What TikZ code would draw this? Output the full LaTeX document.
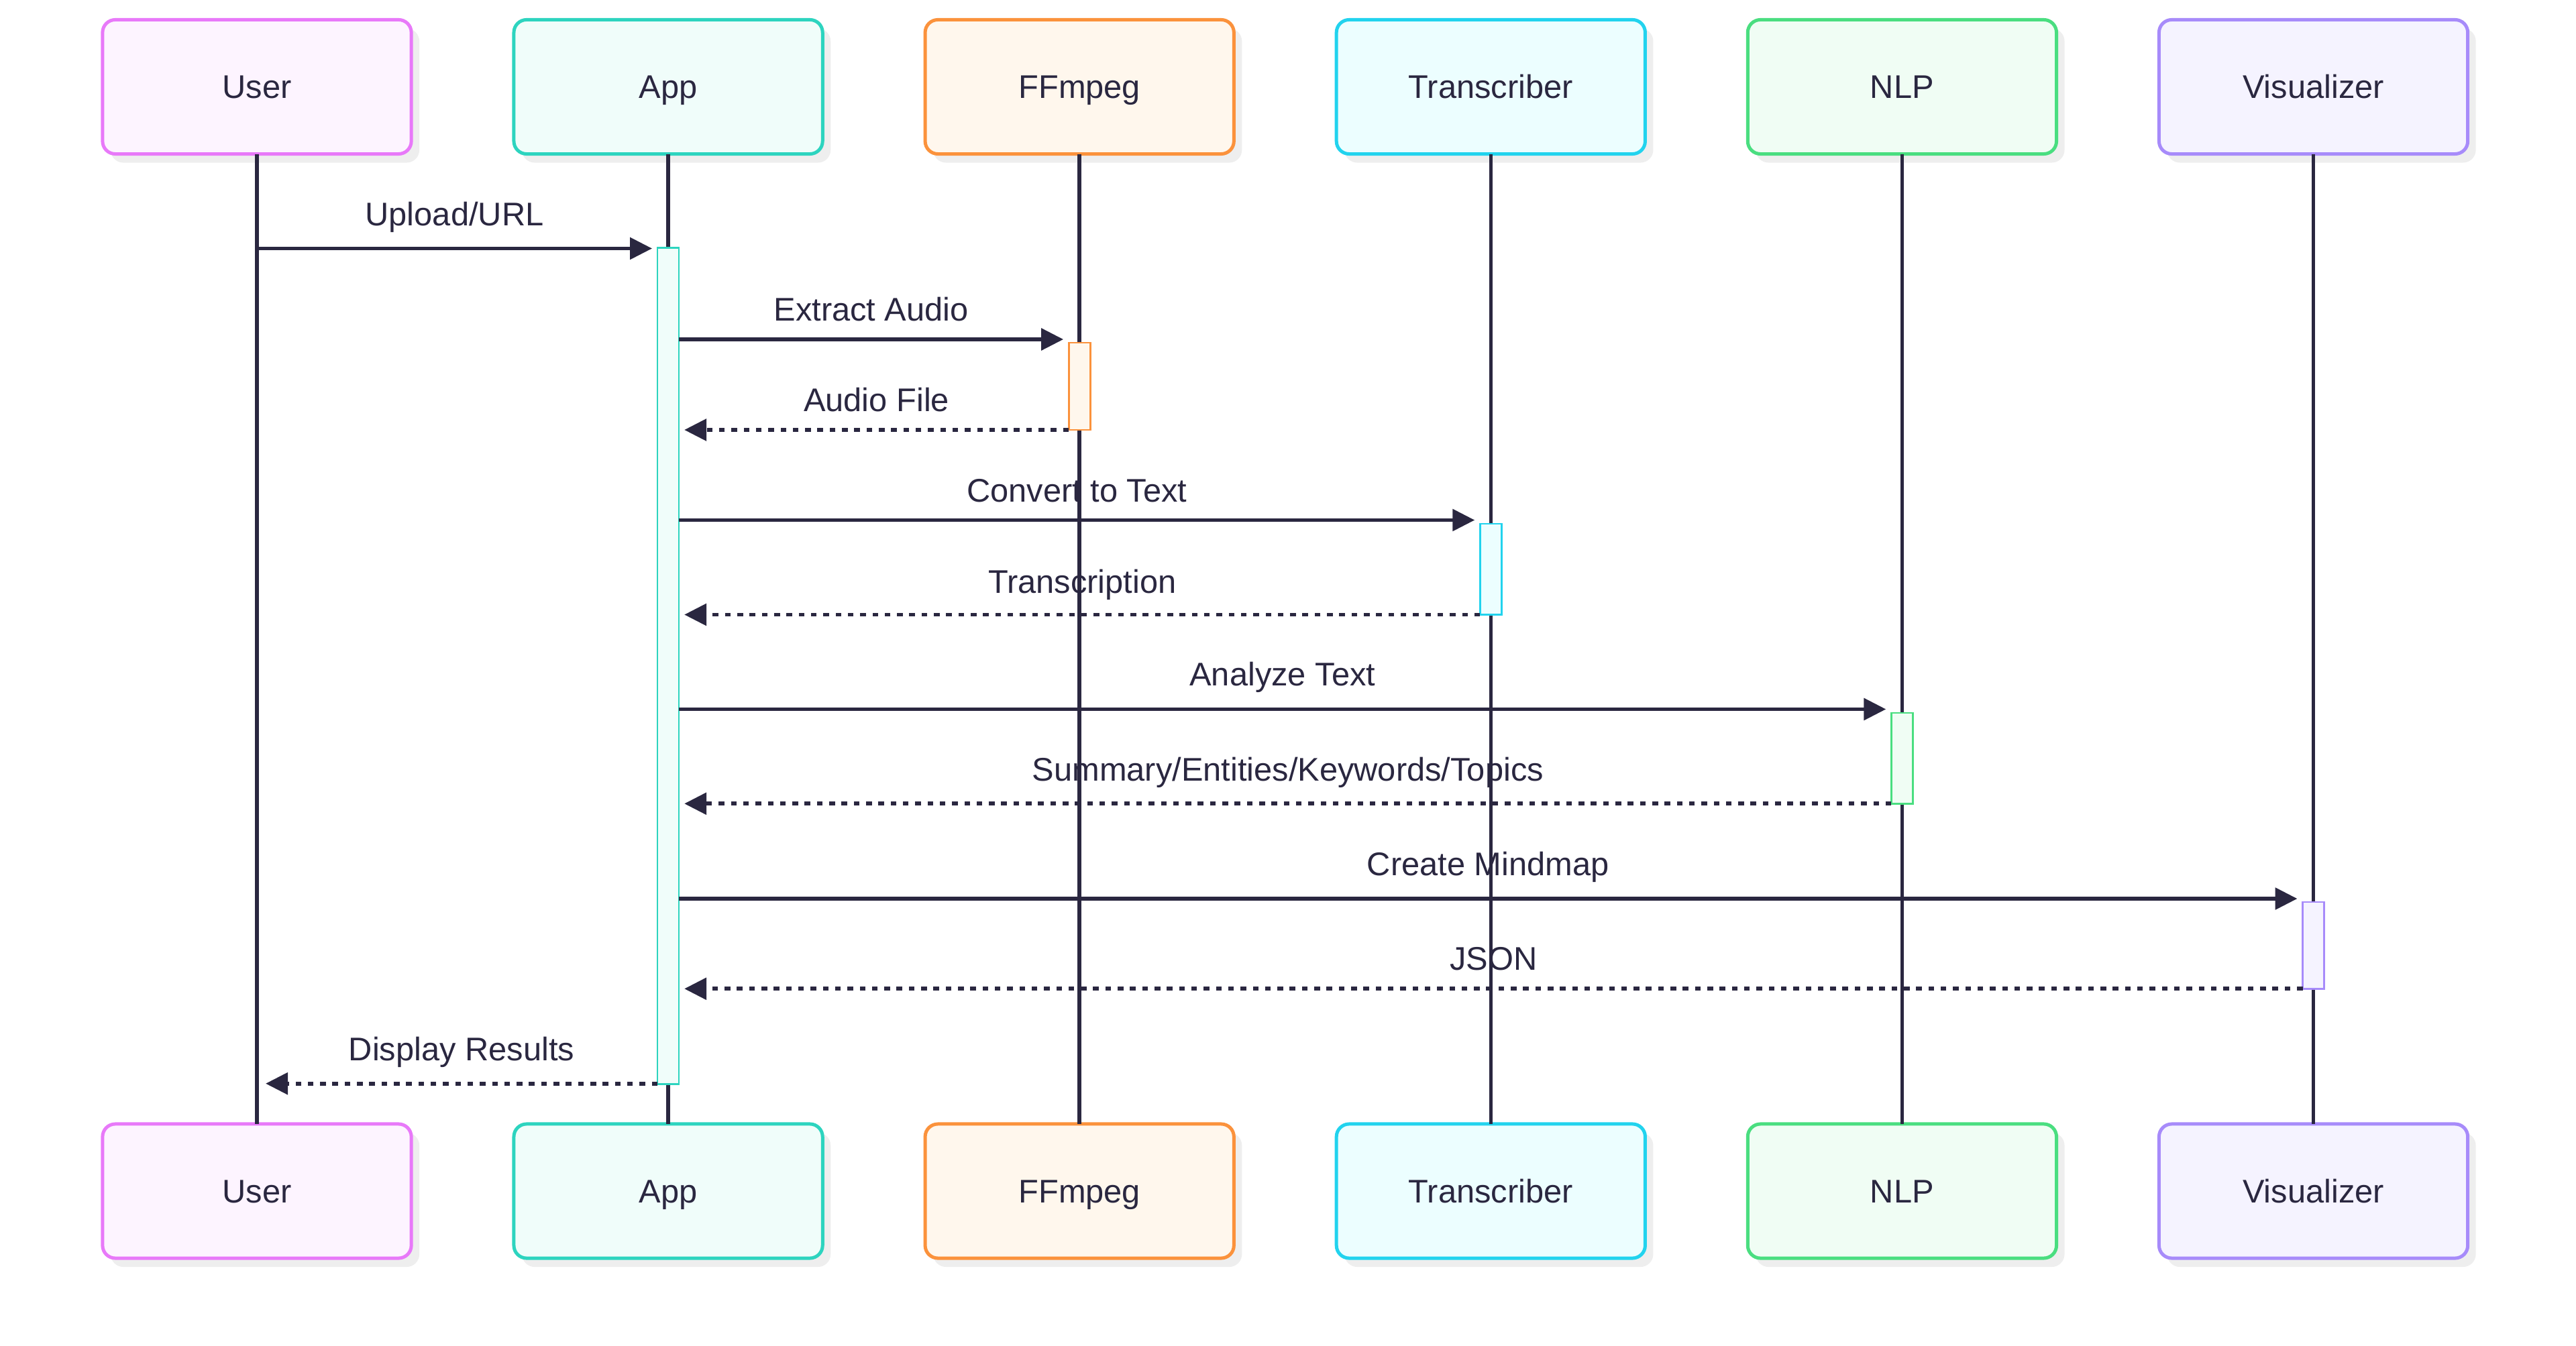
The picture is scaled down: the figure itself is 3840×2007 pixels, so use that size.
\documentclass[tikz,border=0pt]{standalone}
\usepackage{fontspec}
\setmainfont{Liberation Sans}
\usetikzlibrary{arrows.meta,shadows,calc}
\definecolor{ink}{HTML}{2A2740}
\definecolor{shade}{HTML}{EEEEEE}
\definecolor{userF}{HTML}{FDF4FF}\definecolor{userS}{HTML}{E879F9}
\definecolor{appF}{HTML}{F0FDFA}\definecolor{appS}{HTML}{2DD4BF}
\definecolor{ffF}{HTML}{FFF7ED}\definecolor{ffS}{HTML}{FB923C}
\definecolor{trF}{HTML}{ECFEFF}\definecolor{trS}{HTML}{22D3EE}
\definecolor{nlpF}{HTML}{F0FDF4}\definecolor{nlpS}{HTML}{4ADE80}
\definecolor{visF}{HTML}{F5F3FF}\definecolor{visS}{HTML}{A78BFA}
\begin{document}
\begin{tikzpicture}[x=0.01cm,y=-0.01cm,
  txt/.style={font=\fontsize{13.88pt}{16pt}\selectfont, text=ink},
  actorbox/.style={txt, draw, line width=0.05cm, rounded corners=0.19cm,
    minimum width=4.6cm, minimum height=2.0cm, inner sep=0pt, outer sep=0pt,
    text height=0.345cm, text depth=0pt,
    drop shadow={shadow xshift=0.12cm, shadow yshift=-0.13cm, fill=shade, draw=none, opacity=1}},
  lifeline/.style={draw=ink, line width=0.056cm},
  actbox/.style={draw, line width=0.027cm, minimum width=0.32cm, inner sep=0pt, outer sep=0pt},
  callmsg/.style={draw=ink, line width=0.058cm, -{Triangle[length=0.33cm,width=0.32cm]}},
  replymsg/.style={callmsg, dash pattern=on 0.085cm off 0.098cm},
  lbl/.style={txt, anchor=base, inner sep=0pt, outer sep=0pt}
]
\useasboundingbox (0,0) rectangle (3840,2007);

% participants (top)
\node[actorbox, draw=userS, fill=userF] (uT) at (383,129.5) {User};
\node[actorbox, draw=appS, fill=appF] (aT) at (996.1,129.5) {App};
\node[actorbox, draw=ffS, fill=ffF] (fT) at (1609.2,129.5) {FFmpeg};
\node[actorbox, draw=trS, fill=trF] (tT) at (2222.3,129.5) {Transcriber};
\node[actorbox, draw=nlpS, fill=nlpF] (nT) at (2835.4,129.5) {NLP};
\node[actorbox, draw=visS, fill=visF] (vT) at (3448.5,129.5) {Visualizer};
% participants (bottom)
\node[actorbox, draw=userS, fill=userF] (uB) at (383,1776) {User};
\node[actorbox, draw=appS, fill=appF] (aB) at (996.1,1776) {App};
\node[actorbox, draw=ffS, fill=ffF] (fB) at (1609.2,1776) {FFmpeg};
\node[actorbox, draw=trS, fill=trF] (tB) at (2222.3,1776) {Transcriber};
\node[actorbox, draw=nlpS, fill=nlpF] (nB) at (2835.4,1776) {NLP};
\node[actorbox, draw=visS, fill=visF] (vB) at (3448.5,1776) {Visualizer};

% lifelines
\draw[lifeline] (uT.south) -- (uB.north);
\draw[lifeline] (aT.south) -- (aB.north);
\draw[lifeline] (fT.south) -- (fB.north);
\draw[lifeline] (tT.south) -- (tB.north);
\draw[lifeline] (nT.south) -- (nB.north);
\draw[lifeline] (vT.south) -- (vB.north);

% activations
\node[actbox, draw=appS, fill=appF, minimum height=12.46cm] (actA) at (996.1,993) {};
\node[actbox, draw=ffS, fill=ffF, minimum height=1.30cm] (actF) at (1609.2,576) {};
\node[actbox, draw=trS, fill=trF, minimum height=1.355cm] (actT) at (2222.3,848.75) {};
\node[actbox, draw=nlpS, fill=nlpF, minimum height=1.355cm] (actN) at (2835.4,1130.75) {};
\node[actbox, draw=visS, fill=visF, minimum height=1.295cm] (actV) at (3448.5,1409.75) {};

% message end points
\coordinate (m1s) at (uT.south |- 0,370.5);
\coordinate (m1e) at ($(actA.west |- 0,370.5)+(-8,0)$);
\coordinate (m2s) at (actA.east |- 0,506);
\coordinate (m2e) at ($(actF.west |- 0,506)+(-8,0)$);
\coordinate (m3s) at (actF.west |- 0,641);
\coordinate (m3e) at ($(actA.east |- 0,641)+(8,0)$);
\coordinate (m4s) at (actA.east |- 0,775.5);
\coordinate (m4e) at ($(actT.west |- 0,775.5)+(-8,0)$);
\coordinate (m5s) at (actT.west |- 0,916.5);
\coordinate (m5e) at ($(actA.east |- 0,916.5)+(8,0)$);
\coordinate (m6s) at (actA.east |- 0,1057.5);
\coordinate (m6e) at ($(actN.west |- 0,1057.5)+(-8,0)$);
\coordinate (m7s) at (actN.west |- 0,1198.3);
\coordinate (m7e) at ($(actA.east |- 0,1198.3)+(8,0)$);
\coordinate (m8s) at (actA.east |- 0,1340);
\coordinate (m8e) at ($(actV.west |- 0,1340)+(-8,0)$);
\coordinate (m9s) at (actV.west |- 0,1474.3);
\coordinate (m9e) at ($(actA.east |- 0,1474.3)+(8,0)$);
\coordinate (m10s) at (actA.west |- 0,1615.7);
\coordinate (m10e) at ($(uT.south |- 0,1615.7)+(13,0)$);

% messages
\draw[callmsg] (m1s) -- node[lbl, midway, yshift=0.335cm] (l1) {Upload/URL} (m1e);
\draw[callmsg] (m2s) -- node[lbl, midway, yshift=0.274cm] (l2) {Extract Audio} (m2e);
\draw[replymsg] (m3s) -- node[lbl, midway, yshift=0.276cm] (l3) {Audio File} (m3e);
\draw[callmsg] (m4s) -- node[lbl, midway, yshift=0.265cm] (l4) {Convert to Text} (m4e);
\draw[replymsg] (m5s) -- node[lbl, midway, yshift=0.32cm] (l5) {Transcription} (m5e);
\draw[callmsg] (m6s) -- node[lbl, midway, yshift=0.345cm] (l6) {Analyze Text} (m6e);
\draw[replymsg] (m7s) -- node[lbl, midway, yshift=0.34cm] (l7) {Summary/Entities/Keywords/Topics} (m7e);
\draw[callmsg] (m8s) -- node[lbl, midway, yshift=0.345cm] (l8) {Create Mindmap} (m8e);
\draw[replymsg] (m9s) -- node[lbl, midway, yshift=0.28cm] (l9) {JSON} (m9e);
\draw[replymsg] (m10s) -- node[lbl, midway, yshift=0.34cm] (l10) {Display Results} (m10e);
\end{tikzpicture}
\end{document}
